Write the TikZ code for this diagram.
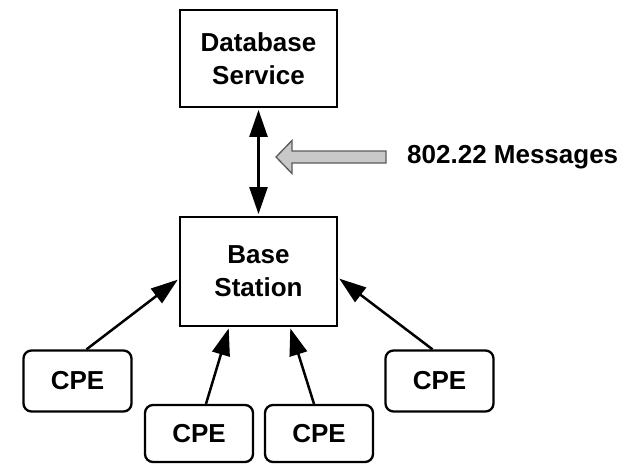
\documentclass[tikz,border=0pt]{standalone}
\usepackage{fontspec}
\setmainfont{Liberation Sans}
\usetikzlibrary{arrows.meta}
\definecolor{arrowfill}{RGB}{200,200,200}
\definecolor{arrowline}{RGB}{90,90,90}
\begin{document}
\begin{tikzpicture}[x=1pt,y=-1pt,
  lbl/.style={font=\fontsize{26}{33}\selectfont\bfseries},
  box/.style={lbl, draw, line width=2.8pt, fill=white, inner sep=0pt, align=center, minimum width=157pt},
  cpe/.style={lbl, draw, line width=2.3pt, rounded corners=8pt, fill=white, inner sep=0pt, minimum width=108pt},
  tip/.style={Triangle[length=27pt,width=18pt]},
  conn/.style={line width=2.5pt, -{Triangle[length=27pt,width=18pt]}, shorten >=1pt},
  dconn/.style={line width=2.5pt, {Triangle[length=27pt,width=18pt]}-{Triangle[length=27pt,width=18pt]}, shorten <=1.5pt, shorten >=1.5pt},
  bigarrow/.style={draw=arrowline, fill=arrowfill, line width=1.3pt, line join=miter}]
\useasboundingbox (0,0) rectangle (631,464);
\node[box, minimum height=97pt] (db) at (258.5,58.5) {Database\\Service};
\node[box, minimum height=109pt] (bs) at (258.5,271.5) {Base\\Station};
\node[cpe, minimum height=61pt] (c1) at (77.5,381) {CPE};
\node[cpe, minimum height=57pt] (c2) at (199,433.5) {CPE};
\node[cpe, minimum height=57pt] (c3) at (319,433.5) {CPE};
\node[cpe, minimum height=61pt] (c4) at (439.5,381) {CPE};
\node[lbl, anchor=west, inner sep=0pt] (msg) at (407,157) {802.22 Messages};
\draw[dconn] (db.south) -- (bs.north);
\draw[conn] ([xshift=9pt]c1.north) -- ([yshift=-7.5pt]bs.west);
\draw[conn] ([xshift=-7pt]c4.north) -- ([yshift=-6.5pt]bs.east);
\draw[conn] ([xshift=7pt]c2.north) -- ([xshift=-29.5pt]bs.south);
\draw[conn] ([xshift=-5pt]c3.north) -- ([xshift=31.5pt]bs.south);
\draw[bigarrow] (386,151) -- (292,151) -- (292,140.5) -- (276,157) -- (292,173.5) -- (292,163) -- (386,163) -- cycle;
\end{tikzpicture}
\end{document}
